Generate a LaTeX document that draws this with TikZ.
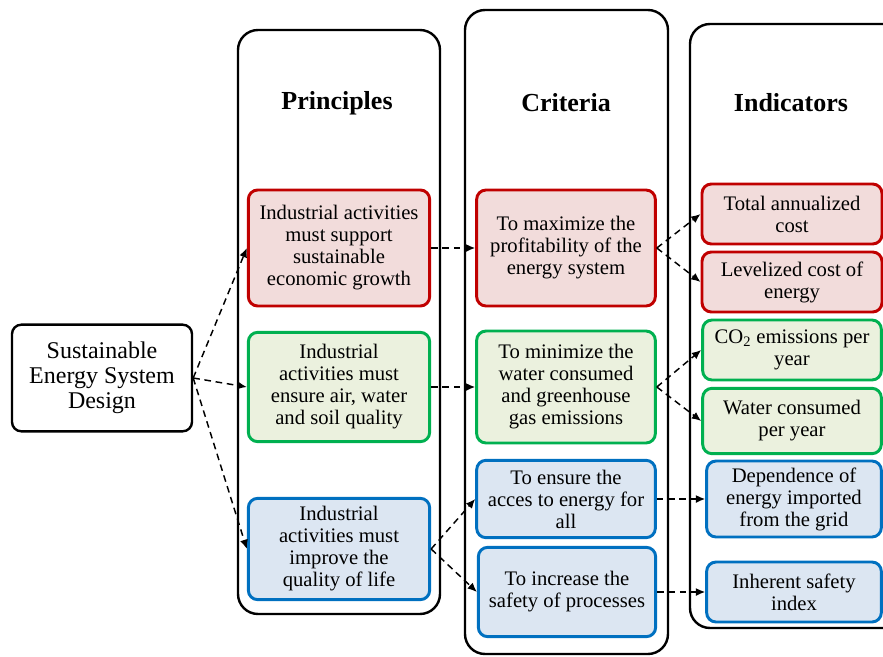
\documentclass[tikz,border=0pt]{standalone}
\usepackage{fontspec}
\setmainfont{Liberation Serif}
\usetikzlibrary{arrows.meta}
\definecolor{redline}{HTML}{C00000}
\definecolor{redfill}{HTML}{F2DCDB}
\definecolor{greenline}{HTML}{00B050}
\definecolor{greenfill}{HTML}{EBF1DE}
\definecolor{blueline}{HTML}{0070C0}
\definecolor{bluefill}{HTML}{DCE6F2}
\begin{document}
\begin{tikzpicture}[x=0.75pt,y=-0.75pt,
    column/.style={draw, line width=1.8pt, rounded corners=15pt},
    heading/.style={font=\fontsize{19.5}{22}\selectfont\bfseries},
    item/.style={draw, line width=2.2pt, rounded corners=7pt, align=center,
      inner sep=1pt, font=\fontsize{15.5}{16.5}\selectfont},
    redbox/.style={item, draw=redline, fill=redfill},
    greenbox/.style={item, draw=greenline, fill=greenfill},
    bluebox/.style={item, draw=blueline, fill=bluefill},
    link/.style={-{Latex[length=7pt,width=6pt]}, line width=1.1pt,
      dash pattern=on 5pt off 3.5pt}]
  \clip (0,0) rectangle (883,657);
  % columns
  \draw[column] (238,30) rectangle (440,614);
  \draw[column] (465,10) rectangle (668,654);
  \draw[column] (690,24) rectangle (910,628);
  \node[heading] (princ) at (337,103) {Principles};
  \node[heading] (crit) at (566,103) {Criteria};
  \node[heading] (indic) at (791,103) {Indicators};
  % design
  \node[item, line width=1.8pt, minimum width=135pt, minimum height=80pt,
    font=\fontsize{18}{18.75}\selectfont] (design) at (102,378)
    {Sustainable\\Energy System\\Design};
  % principles
  \node[redbox, minimum width=136pt, minimum height=87pt] (p1) at (339,248)
    {Industrial activities\\must support\\sustainable\\economic growth};
  \node[greenbox, minimum width=136pt, minimum height=82pt] (p2) at (339,387)
    {Industrial\\activities must\\ensure air, water\\and soil quality};
  \node[bluebox, minimum width=136pt, minimum height=76pt] (p3) at (339,549)
    {Industrial\\activities must\\improve the\\quality of life};
  % criteria
  \node[redbox, minimum width=134pt, minimum height=87pt] (c1) at (566,248)
    {To maximize the\\profitability of the\\energy system};
  \node[greenbox, minimum width=134pt, minimum height=84pt] (c2) at (566,387)
    {To minimize the\\water consumed\\and greenhouse\\gas emissions};
  \node[bluebox, minimum width=134pt, minimum height=58pt] (c3) at (566,499)
    {To ensure the\\acces to energy for\\all};
  \node[bluebox, minimum width=133pt, minimum height=67pt] (c4) at (567,592)
    {To increase the\\safety of processes};
  % indicators
  \node[redbox, minimum width=135pt, minimum height=45pt] (i1) at (792,214)
    {Total annualized\\cost};
  \node[redbox, minimum width=135pt, minimum height=45pt] (i2) at (792,282)
    {Levelized cost of\\energy};
  \node[greenbox, minimum width=134pt, minimum height=45pt] (i3) at (792,350)
    {CO\textsubscript{2} emissions per\\year};
  \node[greenbox, minimum width=134pt, minimum height=49pt] (i4) at (792,421)
    {Water consumed\\per year};
  \node[bluebox, minimum width=131pt, minimum height=57pt] (i5) at (794,499)
    {Dependence of\\energy imported\\from the grid};
  \node[bluebox, minimum width=131pt, minimum height=45pt] (i6) at (794,592)
    {Inherent safety\\index};
  % links
  \draw[link] (design.east) -- (p1.west);
  \draw[link] (design.east) -- (p2.west);
  \draw[link] (design.east) -- (p3.west);
  \draw[link] (p1.east) -- (c1.west);
  \draw[link] (p2.east) -- (c2.west);
  \draw[link] (p3.east) -- (c3.west);
  \draw[link] (p3.east) -- (c4.west);
  \draw[link] (c1.east) -- (i1.west);
  \draw[link] (c1.east) -- (i2.west);
  \draw[link] (c2.east) -- (i3.west);
  \draw[link] (c2.east) -- (i4.west);
  \draw[link] (c3.east) -- (i5.west);
  \draw[link] (c4.east) -- (i6.west);
\end{tikzpicture}
\end{document}
